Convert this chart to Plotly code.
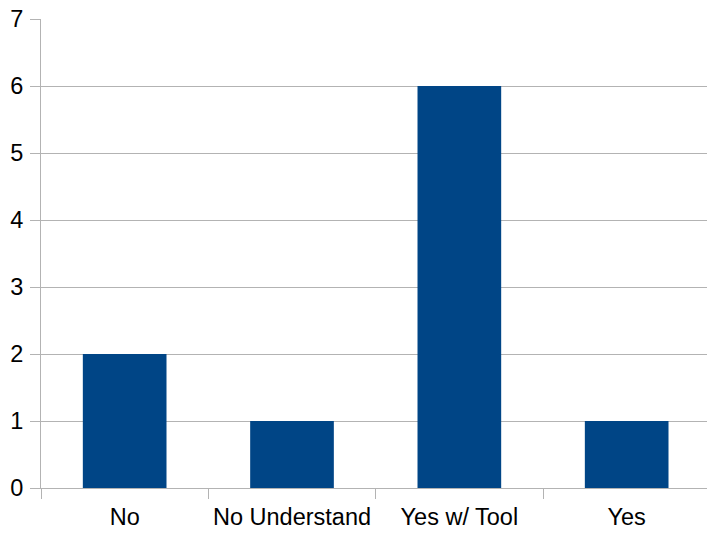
import plotly.graph_objects as go

categories = ["No", "No Understand", "Yes w/ Tool", "Yes"]
counts = [2, 1, 6, 1]

bar_color = "#004586"
axis_gray = "#b3b3b3"

fig = go.Figure(
    go.Bar(
        x=categories,
        y=counts,
        marker=dict(color=bar_color, line=dict(width=0)),
    )
)

fig.update_layout(
    width=707,
    height=533,
    margin=dict(l=41, r=0, t=19, b=45),
    paper_bgcolor="white",
    plot_bgcolor="white",
    bargap=0.5,
    showlegend=False,
    font=dict(family="Liberation Sans, Arial, sans-serif", size=23.5, color="#000000"),
)

fig.update_xaxes(
    type="category",
    range=[-0.5, 3.48],
    showline=True,
    linecolor=axis_gray,
    linewidth=1,
    ticks="outside",
    tickson="boundaries",
    ticklen=10,
    tickcolor=axis_gray,
    showgrid=False,
    ticklabelstandoff=8,
    tickfont=dict(size=23.5),
)

fig.update_yaxes(
    range=[0, 7],
    dtick=1,
    showline=True,
    linecolor=axis_gray,
    linewidth=1,
    ticks="outside",
    ticklen=10,
    tickcolor=axis_gray,
    showgrid=True,
    gridcolor=axis_gray,
    gridwidth=1,
    zeroline=False,
    ticklabelstandoff=2,
    tickfont=dict(size=23.5),
)

fig.write_html("out.html")
